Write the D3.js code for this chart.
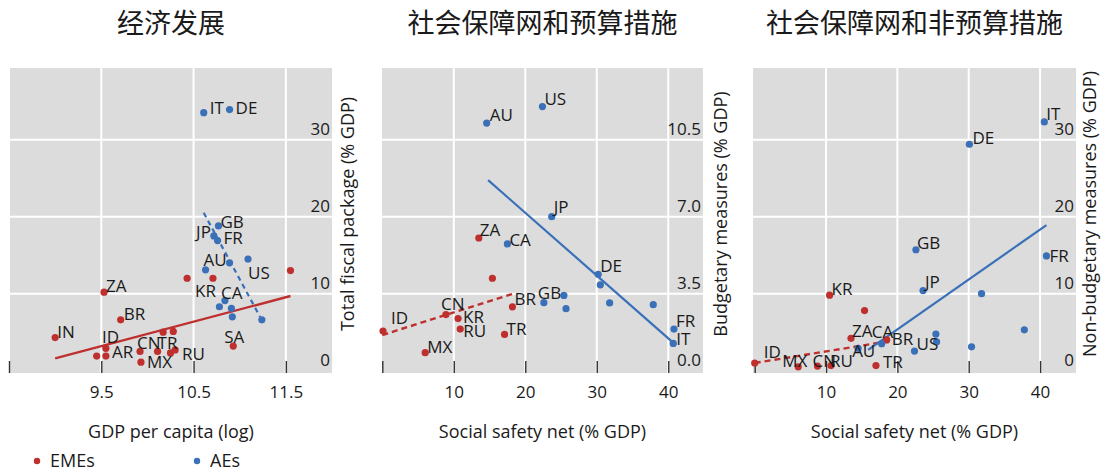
<!DOCTYPE html>
<html>
<head>
<meta charset="utf-8">
<script src="https://cdn.jsdelivr.net/npm/d3@7"></script>
<style>
  html, body { margin: 0; padding: 0; background: #ffffff; }
  svg { display: block; }
  text { font-family: "Open Sans", "Noto Sans", sans-serif; fill: #1a1a1a; }
  .title { font-family: "Noto Sans CJK SC", sans-serif; font-size: 27px; }
</style>
</head>
<body>
<svg id="chart" width="1102" height="471"></svg>
<script>
// ---------- Panel 1: economic development vs total fiscal package ----------
const p1Countries = ["IN", "ZA", "BR", "ID", "AR", "", "CN", "MX", "TR", "", "RU", "", "", "KR", "", "SA", "",
                     "IT", "DE", "GB", "JP", "FR", "US", "", "AU", "CA", "", "", "", ""];
const p1Group = ["EME", "EME", "EME", "EME", "EME", "EME", "EME", "EME", "EME", "EME", "EME", "EME", "EME", "EME", "EME", "EME", "EME",
                 "AE", "AE", "AE", "AE", "AE", "AE", "AE", "AE", "AE", "AE", "AE", "AE", "AE"];
const p1GdpLog = [9.00, 9.53, 9.71, 9.55, 9.55, 9.45, 9.92, 9.93, 10.11, 10.25, 10.30, 10.17, 10.28, 10.43, 10.71, 10.93, 11.55,
                  10.61, 10.89, 10.77, 10.72, 10.76, 11.09, 10.89, 10.63, 10.84, 10.78, 10.91, 10.92, 11.24];
const p1Package = [4.3, 10.2, 6.6, 2.9, 1.9, 1.9, 2.5, 1.1, 2.5, 2.3, 2.7, 5.0, 5.1, 12.0, 12.0, 3.2, 13.0,
                   33.5, 33.9, 18.8, 17.5, 16.9, 14.5, 14.0, 13.1, 9.1, 8.3, 8.1, 7.0, 6.6];
const p1EmeFit = [[9.00, 1.6], [11.55, 9.7]];
const p1AeFit = [[10.61, 20.5], [11.22, 7.0]];
const p1XTicks = [8.5, 9.5, 10.5, 11.5];
const p1XTickLabels = ["", "9.5", "10.5", "11.5"];
const p1YTicks = [0, 10, 20, 30];
const p1YTickLabels = ["0", "10", "20", "30"];

// ---------- Panel 2: social safety net vs budgetary measures ----------
const p2Countries = ["ID", "MX", "CN", "KR", "RU", "ZA", "", "TR", "BR",
                     "AU", "US", "JP", "CA", "DE", "", "", "", "FR", "IT", "GB", "", ""];
const p2Group = ["EME", "EME", "EME", "EME", "EME", "EME", "EME", "EME", "EME",
                 "AE", "AE", "AE", "AE", "AE", "AE", "AE", "AE", "AE", "AE", "AE", "AE", "AE"];
const p2SafetyNet = [0.1, 6.0, 8.9, 10.6, 10.9, 13.5, 15.4, 17.1, 18.2,
                     14.6, 22.4, 23.7, 17.5, 30.2, 30.5, 31.8, 37.9, 40.8, 40.7, 22.6, 25.4, 25.7];
const p2Budgetary = [1.8, 0.82, 2.55, 2.37, 1.89, 6.03, 4.2, 1.65, 2.9,
                     11.25, 12.0, 7.0, 5.76, 4.38, 3.9, 3.08, 3.0, 1.89, 1.24, 3.09, 3.42, 2.82];
const p2EmeFit = [[0, 1.62], [18.3, 3.5]];
const p2AeFit = [[14.8, 8.66], [40.6, 1.3]];
const p2XTicks = [0, 10, 20, 30, 40];
const p2XTickLabels = ["", "10", "20", "30", "40"];
const p2YTicks = [0, 3.5, 7.0, 10.5];
const p2YTickLabels = ["0.0", "3.5", "7.0", "10.5"];

// ---------- Panel 3: social safety net vs non-budgetary measures ----------
const p3Countries = ["ID", "MX", "CN", "KR", "RU", "ZA", "", "TR", "BR",
                     "IT", "DE", "GB", "FR", "JP", "", "", "", "", "", "US", "AU", "CA"];
const p3Group = ["EME", "EME", "EME", "EME", "EME", "EME", "EME", "EME", "EME",
                 "AE", "AE", "AE", "AE", "AE", "AE", "AE", "AE", "AE", "AE", "AE", "AE", "AE"];
const p3SafetyNet = [0.0, 6.1, 8.8, 10.5, 10.7, 13.5, 15.4, 17.0, 18.5,
                     40.6, 30.1, 22.6, 40.9, 23.6, 31.8, 37.8, 25.4, 25.5, 30.4, 22.4, 14.5, 17.8];
const p3NonBudgetary = [1.0, 0.5, 0.6, 9.8, 0.66, 4.2, 7.8, 0.66, 4.0,
                        32.3, 29.4, 15.7, 14.9, 10.4, 10.0, 5.3, 4.75, 3.75, 3.1, 2.55, 2.9, 3.5];
const p3EmeFit = [[0, 1.0], [18.3, 3.75]];
const p3AeFit = [[15.9, 2.7], [40.9, 18.9]];
const p3XTicks = [0, 10, 20, 30, 40];
const p3XTickLabels = ["", "10", "20", "30", "40"];
const p3YTicks = [0, 10, 20, 30];
const p3YTickLabels = ["0", "10", "20", "30"];

const panelTitles = ["经济发展", "社会保障网和预算措施", "社会保障网和非预算措施"];
const xTitles = ["GDP per capita (log)", "Social safety net (% GDP)", "Social safety net (% GDP)"];
const yTitles = ["Total fiscal package (% GDP)", "Budgetary measures (% GDP)", "Non-budgetary measures (% GDP)"];
const legendNames = ["EMEs", "AEs"];

// ---------- styling ----------
const COLORS = { EME: "#be2f2e", AE: "#3a70b8" };
const GREY = "#dcdcdc";
const TOP = 68, BOTTOM = 373;

// label nudges (pixels from the dot centre to the text start / baseline)
const nudges = {
  "1:IT": [6, 1], "1:DE": [6, 4], "1:GB": [2, 2], "1:JP": [-3, 2, "end"], "1:FR": [6, 3],
  "1:AU": [-2, -4], "1:US": [0, 20], "1:KR": [8, 19], "1:CA": [-4, -2], "1:SA": [-9, -3],
  "1:ZA": [2, 0], "1:BR": [3, 0], "1:IN": [2, 0], "1:ID": [-4, -5], "1:AR": [6, 2],
  "1:CN": [-3, -2], "1:TR": [0, -2], "1:MX": [6, 6], "1:RU": [7, 10],
  "2:AU": [3, -2], "2:US": [2, -2], "2:JP": [2, -4], "2:ZA": [1, -2], "2:CA": [2, 2],
  "2:DE": [2, -2], "2:GB": [-6, -4], "2:FR": [2, -2], "2:IT": [3, 2], "2:BR": [2, -2],
  "2:CN": [-5, -5], "2:KR": [5, 4], "2:RU": [3, 8], "2:TR": [2, 1], "2:MX": [2, 0], "2:ID": [8, -7],
  "3:ID": [9, -5], "3:MX": [-16, 0], "3:CN": [-5, 1], "3:RU": [-1, 1], "3:AU": [-6, 9],
  "3:ZA": [1, -1], "3:CA": [-10, -6], "3:BR": [5, 5], "3:TR": [7, 2], "3:US": [2, -1],
  "3:KR": [2, 0], "3:JP": [2, -3], "3:GB": [1, -1], "3:FR": [3, 6], "3:DE": [3, 0], "3:IT": [2, -2]
};

const panels = [
  { id: 1, countries: p1Countries, group: p1Group, xs: p1GdpLog, ys: p1Package,
    emeFit: p1EmeFit, aeFit: p1AeFit, emeDash: false, aeDash: true,
    xDomain: [8.5, 12], xRange: [9, 332], yDomain: [-0.3, 39.3],
    xTicks: p1XTicks, xTickLabels: p1XTickLabels, yTicks: p1YTicks, yTickLabels: p1YTickLabels,
    bg: [10, 332], yTitleX: 347 },
  { id: 2, countries: p2Countries, group: p2Group, xs: p2SafetyNet, ys: p2Budgetary,
    emeFit: p2EmeFit, aeFit: p2AeFit, emeDash: true, aeDash: false,
    xDomain: [0, 45], xRange: [382.3, 704], yDomain: [-0.105, 13.755],
    xTicks: p2XTicks, xTickLabels: p2XTickLabels, yTicks: p2YTicks, yTickLabels: p2YTickLabels,
    bg: [382, 703], yTitleX: 720 },
  { id: 3, countries: p3Countries, group: p3Group, xs: p3SafetyNet, ys: p3NonBudgetary,
    emeFit: p3EmeFit, aeFit: p3AeFit, emeDash: true, aeDash: false,
    xDomain: [0, 45], xRange: [754.7, 1075.7], yDomain: [-0.3, 39.3],
    xTicks: p3XTicks, xTickLabels: p3XTickLabels, yTicks: p3YTicks, yTickLabels: p3YTickLabels,
    bg: [753, 1076], yTitleX: 1089 }
];

const svg = d3.select("#chart");

panels.forEach((p, i) => {
  const x = d3.scaleLinear().domain(p.xDomain).range(p.xRange);
  const y = d3.scaleLinear().domain(p.yDomain).range([BOTTOM, TOP]);
  const g = svg.append("g");
  const cx = (p.bg[0] + p.bg[1]) / 2;

  // panel title
  g.append("text").attr("class", "title")
    .attr("x", cx).attr("y", 33).attr("text-anchor", "middle")
    .text(panelTitles[i]);

  // plot background
  g.append("rect").attr("x", p.bg[0]).attr("y", TOP)
    .attr("width", p.bg[1] - p.bg[0]).attr("height", BOTTOM - TOP)
    .attr("fill", GREY);

  // horizontal grid lines
  g.selectAll(".hgrid").data(p.yTicks.filter(v => v > 0)).join("line")
    .attr("x1", p.bg[0]).attr("x2", p.bg[1])
    .attr("y1", d => y(d)).attr("y2", d => y(d))
    .attr("stroke", "#ffffff").attr("stroke-width", 2);

  // vertical grid lines at labelled ticks
  g.selectAll(".vgrid").data(p.xTicks.filter((v, k) => p.xTickLabels[k] !== "")).join("line")
    .attr("x1", d => x(d)).attr("x2", d => x(d))
    .attr("y1", TOP).attr("y2", BOTTOM)
    .attr("stroke", "#ffffff").attr("stroke-width", 2);

  // x axis ticks and labels
  const xAxis = d3.axisBottom(x).tickValues(p.xTicks)
    .tickFormat((d, k) => p.xTickLabels[k]).tickSize(12).tickPadding(10);
  const xg = g.append("g").attr("transform", `translate(0,${BOTTOM - 12})`).call(xAxis);
  xg.select(".domain").remove();
  xg.selectAll(".tick line").attr("stroke", "#333").attr("stroke-width", 1.4);
  xg.selectAll(".tick text").attr("font-size", 17).attr("fill", "#1a1a1a")
    .attr("font-family", "\"Open Sans\", sans-serif").attr("dy", 15);

  // y tick labels, inside the panel on the right, sitting on the grid lines
  g.selectAll(".ylab").data(p.yTicks).join("text")
    .attr("x", p.bg[1] - 2).attr("y", d => y(d) - 5)
    .attr("text-anchor", "end").attr("font-size", 17)
    .text((d, k) => p.yTickLabels[k]);

  // fitted lines
  const line = d3.line().x(d => x(d[0])).y(d => y(d[1]));
  g.append("path").datum(p.emeFit).attr("d", line)
    .attr("fill", "none").attr("stroke", COLORS.EME).attr("stroke-width", 2.4)
    .attr("stroke-dasharray", p.emeDash ? "6,4" : null);
  g.append("path").datum(p.aeFit).attr("d", line)
    .attr("fill", "none").attr("stroke", COLORS.AE).attr("stroke-width", 2.2)
    .attr("stroke-dasharray", p.aeDash ? "5,4" : null);

  // dots
  const pts = p.xs.map((v, k) => ({ x: v, y: p.ys[k], c: p.countries[k], g: p.group[k] }));
  g.selectAll(".dot").data(pts).join("circle")
    .attr("cx", d => x(d.x)).attr("cy", d => y(d.y)).attr("r", 3.6)
    .attr("fill", d => COLORS[d.g]);

  // country labels
  g.selectAll(".lab").data(pts.filter(d => d.c !== "")).join("text")
    .attr("x", d => x(d.x) + (nudges[p.id + ":" + d.c] || [3, -3])[0])
    .attr("y", d => y(d.y) + (nudges[p.id + ":" + d.c] || [3, -3])[1])
    .attr("text-anchor", d => (nudges[p.id + ":" + d.c] || [])[2] || "start")
    .attr("font-size", 17)
    .text(d => d.c);

  // axis titles
  g.append("text").attr("x", cx).attr("y", 438).attr("text-anchor", "middle")
    .attr("font-size", 18).text(xTitles[i]);
  g.append("text")
    .attr("transform", `translate(${p.yTitleX},214) rotate(-90)`)
    .attr("text-anchor", "middle").attr("dominant-baseline", "central")
    .attr("font-size", 18).text(yTitles[i]);
});

// legend
const legendX = [37, 197];
["EME", "AE"].forEach((k, i) => {
  svg.append("circle").attr("cx", legendX[i]).attr("cy", 461).attr("r", 3.2).attr("fill", COLORS[k]);
  svg.append("text").attr("x", legendX[i] + 13).attr("y", 467).attr("font-size", 18).text(legendNames[i]);
});
</script>
</body>
</html>
